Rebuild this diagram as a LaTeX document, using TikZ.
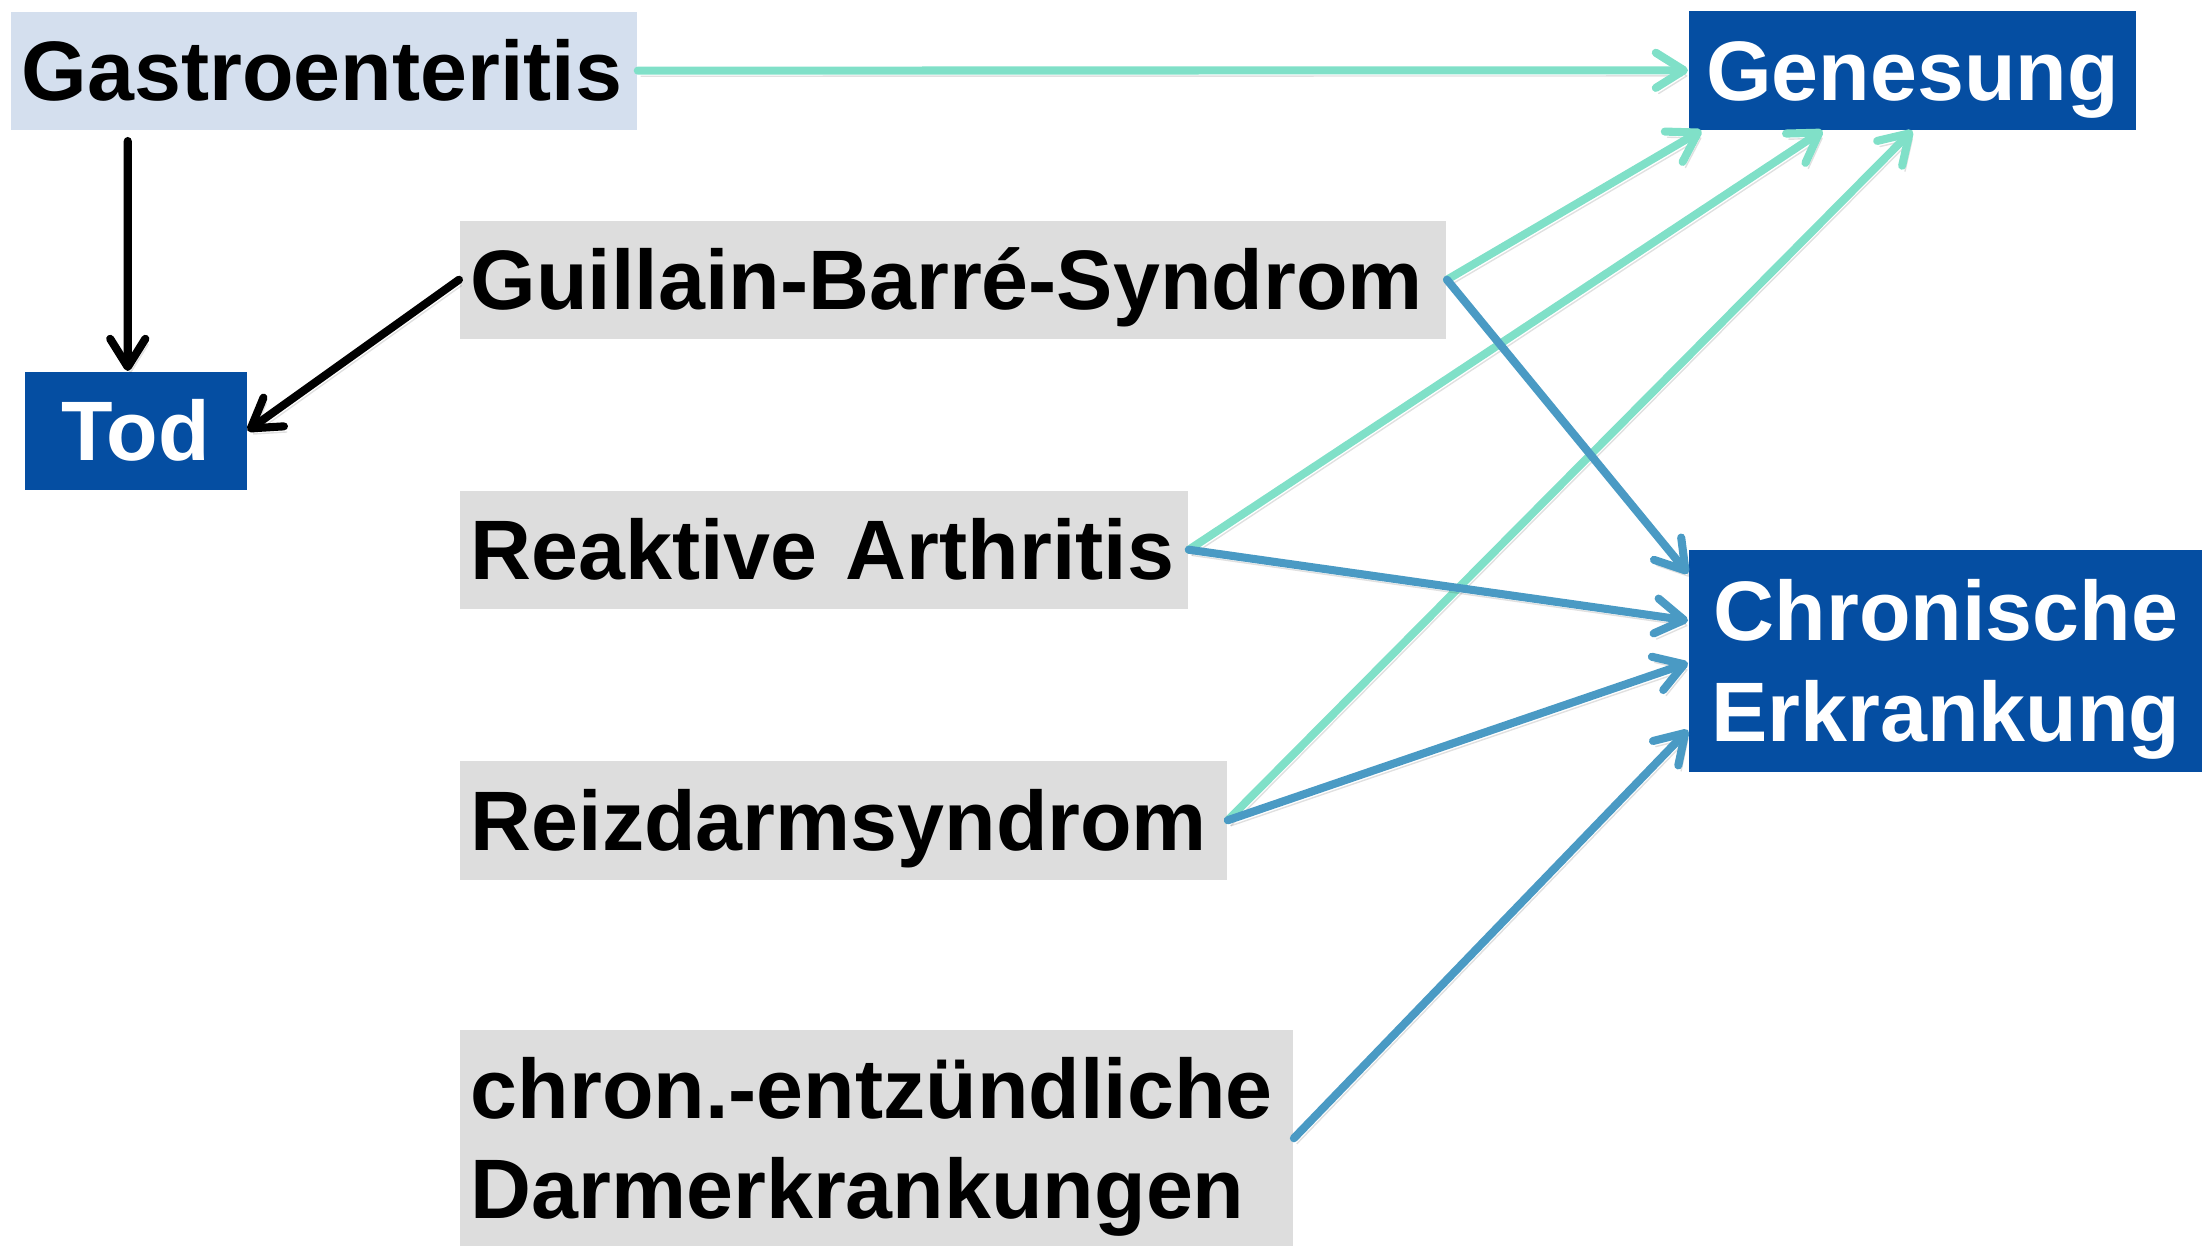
\documentclass[tikz,border=0pt]{standalone}
\usepackage{fontspec}
\setmainfont{Liberation Sans}
\usetikzlibrary{arrows.meta, calc}
\definecolor{outcome}{HTML}{054EA2}
\definecolor{lightblue}{HTML}{D4DFEE}
\definecolor{lightgray}{HTML}{DDDDDD}
\definecolor{heal}{HTML}{80E0C8}
\definecolor{chronic}{HTML}{4A9AC4}

\begin{document}
\begin{tikzpicture}[x=0.01cm, y=-0.01cm,
  box/.style={anchor=north west, inner xsep=0.11cm, inner ysep=0pt,
    font=\fontsize{24}{28.5}\selectfont\bfseries, align=left},
  oneline/.style={text height=17.2pt, text depth=0pt},
  twoline/.style={text height=17.2pt, text depth=28.5pt},
  cause/.style={box, fill=lightgray},
  result/.style={box, fill=outcome, text=white, align=center},
  tip/.style={-{Straight Barb[length=8pt,width=10pt,round]},
    line width=2.3pt, line cap=round,
    preaction={draw=black, opacity=0.12,
      transform canvas={xshift=0.8pt, yshift=-1.6pt}}}]
  \useasboundingbox (0,0) rectangle (2202,1246);
  % Start
  \node[box, oneline, fill=lightblue, text width=6.04cm,
        minimum height=1.18cm] (gastro) at (10,11) {Gastroenteritis};
  % Outcomes
  \node[result, oneline, text width=2.00cm,
        minimum height=1.18cm] (tod) at (24,371) {Tod};
  \node[result, oneline, text width=4.25cm,
        minimum height=1.19cm] (genesung) at (1688,10) {Genesung};
  \node[result, twoline, text width=4.92cm,
        minimum height=2.22cm] (chron) at (1688,549)
        {Chronische\\Erkrankung};
  % Sequelae
  \node[cause, oneline, text width=9.64cm,
        minimum height=1.18cm] (gbs) at (459,220) {Guillain-Barré-Syndrom};
  \node[cause, oneline, text width=7.06cm,
        minimum height=1.18cm] (ra) at (459,490) {Reaktive Arthritis};
  \node[cause, oneline, text width=7.45cm,
        minimum height=1.19cm] (rds) at (459,760) {Reizdarmsyndrom};
  \node[cause, twoline, text width=8.11cm,
        minimum height=2.17cm] (ced) at (459,1029)
        {chron.-entzündliche\\Darmerkrankungen};
  % Arrows to death
  \draw[tip, black] ([yshift=-3pt]gastro.south -| tod.north)
    ++(-8,0) -- ([xshift=-0.08cm]tod.north);
  \draw[tip, black] (gbs.west) -- (tod.east);
  % Arrows to recovery
  \draw[tip, heal] (gastro) -- (genesung);
  \foreach \a/\f in {gbs/0.03, ra/0.30, rds/0.50}
    \draw[tip, heal] (\a.east) -- ($(genesung.south west)!\f!(genesung.south east)$);
  % Arrows to chronic disease
  \foreach \a/\f in {gbs/0.11, ra/0.32, rds/0.51, ced/0.81}
    \draw[tip, chronic] (\a.east) -- ($(chron.north west)!\f!(chron.south west)$);
\end{tikzpicture}
\end{document}
